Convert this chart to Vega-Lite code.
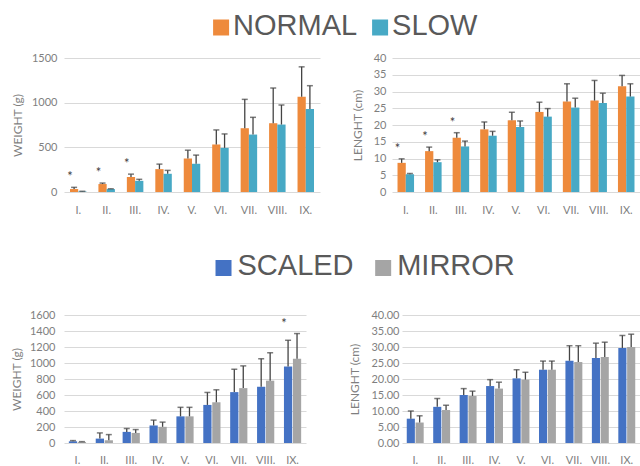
{
  "$schema": "https://vega.github.io/schema/vega-lite/v6.json",
  "padding": {"left": 10, "top": 0, "right": 0, "bottom": 0},
  "background": "white",
  "config": {
    "view": {"stroke": null},
    "font": "Lato",
    "axis": {"domain": false, "ticks": false, "labelFont": "Lato", "labelFontSize": 11, "labelColor": "#7f7f7f", "titleFont": "Lato", "titleFontSize": 12, "titleFontWeight": "normal", "titleColor": "#7f7f7f", "labelOverlap": false},
    "axisY": {"grid": true, "gridColor": "#d9d9d9", "gridWidth": 1},
    "axisX": {"grid": false, "labelAngle": 0, "title": null, "labelPadding": 12}
  },
  "datasets": {
    "leg1": [{"label": "NORMAL"}, {"label": "SLOW"}],
    "leg2": [{"label": "SCALED"}, {"label": "MIRROR"}],
    "wt_ns": [
      {"cat": "I.", "grp": "NORMAL", "val": 33, "err": 52, "sig": "*"},
      {"cat": "I.", "grp": "SLOW", "val": 6, "err": 8},
      {"cat": "II.", "grp": "NORMAL", "val": 89, "err": 100, "sig": "*"},
      {"cat": "II.", "grp": "SLOW", "val": 33, "err": 36},
      {"cat": "III.", "grp": "NORMAL", "val": 167, "err": 200, "sig": "*"},
      {"cat": "III.", "grp": "SLOW", "val": 125, "err": 142},
      {"cat": "IV.", "grp": "NORMAL", "val": 256, "err": 312},
      {"cat": "IV.", "grp": "SLOW", "val": 204, "err": 242},
      {"cat": "V.", "grp": "NORMAL", "val": 375, "err": 468},
      {"cat": "V.", "grp": "SLOW", "val": 316, "err": 413},
      {"cat": "VI.", "grp": "NORMAL", "val": 532, "err": 695},
      {"cat": "VI.", "grp": "SLOW", "val": 494, "err": 650},
      {"cat": "VII.", "grp": "NORMAL", "val": 714, "err": 1037},
      {"cat": "VII.", "grp": "SLOW", "val": 643, "err": 836},
      {"cat": "VIII.", "grp": "NORMAL", "val": 770, "err": 1164},
      {"cat": "VIII.", "grp": "SLOW", "val": 755, "err": 974},
      {"cat": "IX.", "grp": "NORMAL", "val": 1067, "err": 1401},
      {"cat": "IX.", "grp": "SLOW", "val": 929, "err": 1190}
    ],
    "len_ns": [
      {"cat": "I.", "grp": "NORMAL", "val": 8.7, "err": 9.9, "sig": "*"},
      {"cat": "I.", "grp": "SLOW", "val": 5.3, "err": 5.5},
      {"cat": "II.", "grp": "NORMAL", "val": 12.2, "err": 13.4, "sig": "*"},
      {"cat": "II.", "grp": "SLOW", "val": 8.9, "err": 9.6},
      {"cat": "III.", "grp": "NORMAL", "val": 16.2, "err": 17.7, "sig": "*"},
      {"cat": "III.", "grp": "SLOW", "val": 13.6, "err": 15.2},
      {"cat": "IV.", "grp": "NORMAL", "val": 18.7, "err": 20.9},
      {"cat": "IV.", "grp": "SLOW", "val": 16.8, "err": 18.1},
      {"cat": "V.", "grp": "NORMAL", "val": 21.4, "err": 23.8},
      {"cat": "V.", "grp": "SLOW", "val": 19.4, "err": 21.2},
      {"cat": "VI.", "grp": "NORMAL", "val": 23.9, "err": 26.8},
      {"cat": "VI.", "grp": "SLOW", "val": 22.5, "err": 24.9},
      {"cat": "VII.", "grp": "NORMAL", "val": 27.0, "err": 32.3},
      {"cat": "VII.", "grp": "SLOW", "val": 25.2, "err": 28.0},
      {"cat": "VIII.", "grp": "NORMAL", "val": 27.3, "err": 33.3},
      {"cat": "VIII.", "grp": "SLOW", "val": 26.6, "err": 29.5},
      {"cat": "IX.", "grp": "NORMAL", "val": 31.6, "err": 34.8},
      {"cat": "IX.", "grp": "SLOW", "val": 28.5, "err": 32.3}
    ],
    "wt_sm": [
      {"cat": "I.", "grp": "SCALED", "val": 21, "err": 30},
      {"cat": "I.", "grp": "MIRROR", "val": 13, "err": 17},
      {"cat": "II.", "grp": "SCALED", "val": 55, "err": 126},
      {"cat": "II.", "grp": "MIRROR", "val": 34, "err": 105},
      {"cat": "III.", "grp": "SCALED", "val": 139, "err": 181},
      {"cat": "III.", "grp": "MIRROR", "val": 126, "err": 168},
      {"cat": "IV.", "grp": "SCALED", "val": 219, "err": 286},
      {"cat": "IV.", "grp": "MIRROR", "val": 202, "err": 261},
      {"cat": "V.", "grp": "SCALED", "val": 333, "err": 446},
      {"cat": "V.", "grp": "MIRROR", "val": 333, "err": 446},
      {"cat": "VI.", "grp": "SCALED", "val": 476, "err": 632},
      {"cat": "VI.", "grp": "MIRROR", "val": 509, "err": 665},
      {"cat": "VII.", "grp": "SCALED", "val": 636, "err": 922},
      {"cat": "VII.", "grp": "MIRROR", "val": 686, "err": 964},
      {"cat": "VIII.", "grp": "SCALED", "val": 703, "err": 1053},
      {"cat": "VIII.", "grp": "MIRROR", "val": 779, "err": 1128},
      {"cat": "IX.", "grp": "SCALED", "val": 956, "err": 1284},
      {"cat": "IX.", "grp": "MIRROR", "val": 1053, "err": 1368, "sig": "*"}
    ],
    "len_sm": [
      {"cat": "I.", "grp": "SCALED", "val": 7.6, "err": 10.0},
      {"cat": "I.", "grp": "MIRROR", "val": 6.4, "err": 8.5},
      {"cat": "II.", "grp": "SCALED", "val": 11.3, "err": 13.9},
      {"cat": "II.", "grp": "MIRROR", "val": 10.3, "err": 11.8},
      {"cat": "III.", "grp": "SCALED", "val": 15.0, "err": 17.0},
      {"cat": "III.", "grp": "MIRROR", "val": 14.7, "err": 16.2},
      {"cat": "IV.", "grp": "SCALED", "val": 17.8, "err": 19.8},
      {"cat": "IV.", "grp": "MIRROR", "val": 17.0, "err": 19.0},
      {"cat": "V.", "grp": "SCALED", "val": 20.2, "err": 22.9},
      {"cat": "V.", "grp": "MIRROR", "val": 19.8, "err": 22.1},
      {"cat": "VI.", "grp": "SCALED", "val": 22.9, "err": 25.6},
      {"cat": "VI.", "grp": "MIRROR", "val": 22.9, "err": 25.6},
      {"cat": "VII.", "grp": "SCALED", "val": 25.7, "err": 30.4},
      {"cat": "VII.", "grp": "MIRROR", "val": 25.3, "err": 30.4},
      {"cat": "VIII.", "grp": "SCALED", "val": 26.6, "err": 31.2},
      {"cat": "VIII.", "grp": "MIRROR", "val": 26.9, "err": 31.5},
      {"cat": "IX.", "grp": "SCALED", "val": 29.7, "err": 33.6},
      {"cat": "IX.", "grp": "MIRROR", "val": 30.0, "err": 34.0}
    ]
  },
  "columns": 1,
  "align": "none",
  "spacing": 0,
  "resolve": {"scale": {"color": "independent", "x": "independent", "y": "independent", "xOffset": "independent"}},
  "concat": [
    {
      "width": 477, "height": 52,
      "data": {"name": "leg1"},
      "encoding": {"x": {"field": "label", "type": "nominal", "sort": null, "scale": {"type": "point", "padding": 1, "align": 0.494}, "axis": null}},
      "layer": [
        {"mark": {"type": "point", "shape": "square", "filled": true, "size": 256, "opacity": 1, "yOffset": 1.5},
         "encoding": {"color": {"field": "label", "type": "nominal", "scale": {"domain": ["NORMAL", "SLOW"], "range": ["#EE8A3C", "#47A9C5"]}, "legend": null}}},
        {"mark": {"type": "text", "align": "left", "baseline": "middle", "dx": 12, "fontSize": 29, "font": "Liberation Sans", "color": "#595959"},
         "encoding": {"text": {"field": "label"}}}
      ]
    },
    {
      "spacing": 31,
      "resolve": {"scale": {"color": "independent", "x": "independent", "y": "independent", "xOffset": "independent"}},
      "hconcat": [
        {
          "width": 256, "height": 134,
          "data": {"name": "wt_ns"},
          "encoding": {
            "x": {"field": "cat", "type": "nominal", "sort": null, "scale": {"paddingInner": 0.42, "paddingOuter": 0.21}},
            "xOffset": {"field": "grp", "type": "nominal", "sort": ["NORMAL", "SLOW"], "scale": {"paddingInner": 0, "paddingOuter": 0}},
            "y": {"field": "val", "type": "quantitative", "scale": {"domain": [0, 1500], "nice": false}, "axis": {"title": "WEIGHT (g)", "values": [0, 500, 1000, 1500], "format": "d", "labelPadding": 7, "titlePadding": 7}}
          },
          "layer": [
            {"mark": {"type": "bar"},
             "encoding": {"color": {"field": "grp", "type": "nominal", "scale": {"domain": ["NORMAL", "SLOW"], "range": ["#EE8A3C", "#47A9C5"]}, "legend": null}}},
            {"mark": {"type": "rule", "color": "#444444", "strokeWidth": 1.3},
             "encoding": {"y2": {"field": "err"}}},
            {"mark": {"type": "tick", "orient": "horizontal", "size": 6, "thickness": 1.5, "color": "#444444"},
             "encoding": {"y": {"field": "err", "type": "quantitative", "axis": {"title": "WEIGHT (g)", "values": [0, 500, 1000, 1500], "format": "d", "labelPadding": 7, "titlePadding": 7}}}},
            {"transform": [{"filter": "datum.sig"}],
             "mark": {"type": "text", "dy": -10, "fontSize": 13, "color": "#404040"},
             "encoding": {"xOffset": {"value": 0}, "y": {"field": "err", "type": "quantitative", "axis": {"title": "WEIGHT (g)", "values": [0, 500, 1000, 1500], "format": "d", "labelPadding": 7, "titlePadding": 7}}, "text": {"field": "sig"}}}
          ]
        },
        {
          "width": 248, "height": 134,
          "data": {"name": "len_ns"},
          "encoding": {
            "x": {"field": "cat", "type": "nominal", "sort": null, "scale": {"paddingInner": 0.4, "paddingOuter": 0.2}},
            "xOffset": {"field": "grp", "type": "nominal", "sort": ["NORMAL", "SLOW"], "scale": {"paddingInner": 0, "paddingOuter": 0}},
            "y": {"field": "val", "type": "quantitative", "scale": {"domain": [0, 40], "nice": false}, "axis": {"title": "LENGHT (cm)", "values": [0, 5, 10, 15, 20, 25, 30, 35, 40], "labelPadding": 6, "titlePadding": 9}}
          },
          "layer": [
            {"mark": {"type": "bar"},
             "encoding": {"color": {"field": "grp", "type": "nominal", "scale": {"domain": ["NORMAL", "SLOW"], "range": ["#EE8A3C", "#47A9C5"]}, "legend": null}}},
            {"mark": {"type": "rule", "color": "#444444", "strokeWidth": 1.3},
             "encoding": {"y2": {"field": "err"}}},
            {"mark": {"type": "tick", "orient": "horizontal", "size": 6, "thickness": 1.5, "color": "#444444"},
             "encoding": {"y": {"field": "err", "type": "quantitative", "axis": {"title": "LENGHT (cm)", "values": [0, 5, 10, 15, 20, 25, 30, 35, 40], "labelPadding": 6, "titlePadding": 9}}}},
            {"transform": [{"filter": "datum.sig"}],
             "mark": {"type": "text", "dy": -10, "fontSize": 13, "color": "#404040"},
             "encoding": {"xOffset": {"value": 0}, "y": {"field": "err", "type": "quantitative", "axis": {"title": "LENGHT (cm)", "values": [0, 5, 10, 15, 20, 25, 30, 35, 40], "labelPadding": 6, "titlePadding": 9}}, "text": {"field": "sig"}}}
          ]
        }
      ]
    },
    {
      "width": 479, "height": 94,
      "data": {"name": "leg2"},
      "encoding": {"x": {"field": "label", "type": "nominal", "sort": null, "scale": {"type": "point", "padding": 1, "align": 0.4995}, "axis": null}},
      "layer": [
        {"mark": {"type": "point", "shape": "square", "filled": true, "size": 256, "opacity": 1, "yOffset": 6},
         "encoding": {"color": {"field": "label", "type": "nominal", "scale": {"domain": ["SCALED", "MIRROR"], "range": ["#4472C4", "#A5A5A5"]}, "legend": null}}},
        {"mark": {"type": "text", "align": "left", "baseline": "middle", "dx": 14, "dy": 4, "fontSize": 29, "font": "Liberation Sans", "color": "#595959"},
         "encoding": {"text": {"field": "label"}}}
      ]
    },
    {
      "spacing": 42,
      "resolve": {"scale": {"color": "independent", "x": "independent", "y": "independent", "xOffset": "independent"}},
      "hconcat": [
        {
          "width": 242, "height": 128,
          "data": {"name": "wt_sm"},
          "encoding": {
            "x": {"field": "cat", "type": "nominal", "sort": null, "scale": {"paddingInner": 0.36, "paddingOuter": 0.18}, "axis": {"labelPadding": 11}},
            "xOffset": {"field": "grp", "type": "nominal", "sort": ["SCALED", "MIRROR"], "scale": {"paddingInner": 0.08, "paddingOuter": 0}},
            "y": {"field": "val", "type": "quantitative", "scale": {"domain": [0, 1600], "nice": false}, "axis": {"title": "WEIGHT (g)", "values": [0, 200, 400, 600, 800, 1000, 1200, 1400, 1600], "format": "d", "labelPadding": 9, "titlePadding": 6}}
          },
          "layer": [
            {"mark": {"type": "bar"},
             "encoding": {"color": {"field": "grp", "type": "nominal", "scale": {"domain": ["SCALED", "MIRROR"], "range": ["#4472C4", "#A5A5A5"]}, "legend": null}}},
            {"mark": {"type": "rule", "color": "#444444", "strokeWidth": 1.3},
             "encoding": {"y2": {"field": "err"}}},
            {"mark": {"type": "tick", "orient": "horizontal", "size": 6, "thickness": 1.5, "color": "#444444"},
             "encoding": {"y": {"field": "err", "type": "quantitative", "axis": {"title": "WEIGHT (g)", "values": [0, 200, 400, 600, 800, 1000, 1200, 1400, 1600], "format": "d", "labelPadding": 9, "titlePadding": 6}}}},
            {"transform": [{"filter": "datum.sig"}],
             "mark": {"type": "text", "dy": -10, "fontSize": 13, "color": "#404040"},
             "encoding": {"xOffset": {"value": 0}, "y": {"field": "err", "type": "quantitative", "axis": {"title": "WEIGHT (g)", "values": [0, 200, 400, 600, 800, 1000, 1200, 1400, 1600], "format": "d", "labelPadding": 9, "titlePadding": 6}}, "text": {"field": "sig"}}}
          ]
        },
        {
          "width": 238, "height": 128,
          "data": {"name": "len_sm"},
          "encoding": {
            "x": {"field": "cat", "type": "nominal", "sort": null, "scale": {"paddingInner": 0.36, "paddingOuter": 0.18}, "axis": {"labelPadding": 11}},
            "xOffset": {"field": "grp", "type": "nominal", "sort": ["SCALED", "MIRROR"], "scale": {"paddingInner": 0.08, "paddingOuter": 0}},
            "y": {"field": "val", "type": "quantitative", "scale": {"domain": [0, 40], "nice": false}, "axis": {"title": "LENGHT (cm)", "values": [0, 5, 10, 15, 20, 25, 30, 35, 40], "format": ".2f", "labelPadding": 3, "titlePadding": 9}}
          },
          "layer": [
            {"mark": {"type": "bar"},
             "encoding": {"color": {"field": "grp", "type": "nominal", "scale": {"domain": ["SCALED", "MIRROR"], "range": ["#4472C4", "#A5A5A5"]}, "legend": null}}},
            {"mark": {"type": "rule", "color": "#444444", "strokeWidth": 1.3},
             "encoding": {"y2": {"field": "err"}}},
            {"mark": {"type": "tick", "orient": "horizontal", "size": 6, "thickness": 1.5, "color": "#444444"},
             "encoding": {"y": {"field": "err", "type": "quantitative", "axis": {"title": "LENGHT (cm)", "values": [0, 5, 10, 15, 20, 25, 30, 35, 40], "format": ".2f", "labelPadding": 3, "titlePadding": 9}}}}
          ]
        }
      ]
    }
  ]
}
